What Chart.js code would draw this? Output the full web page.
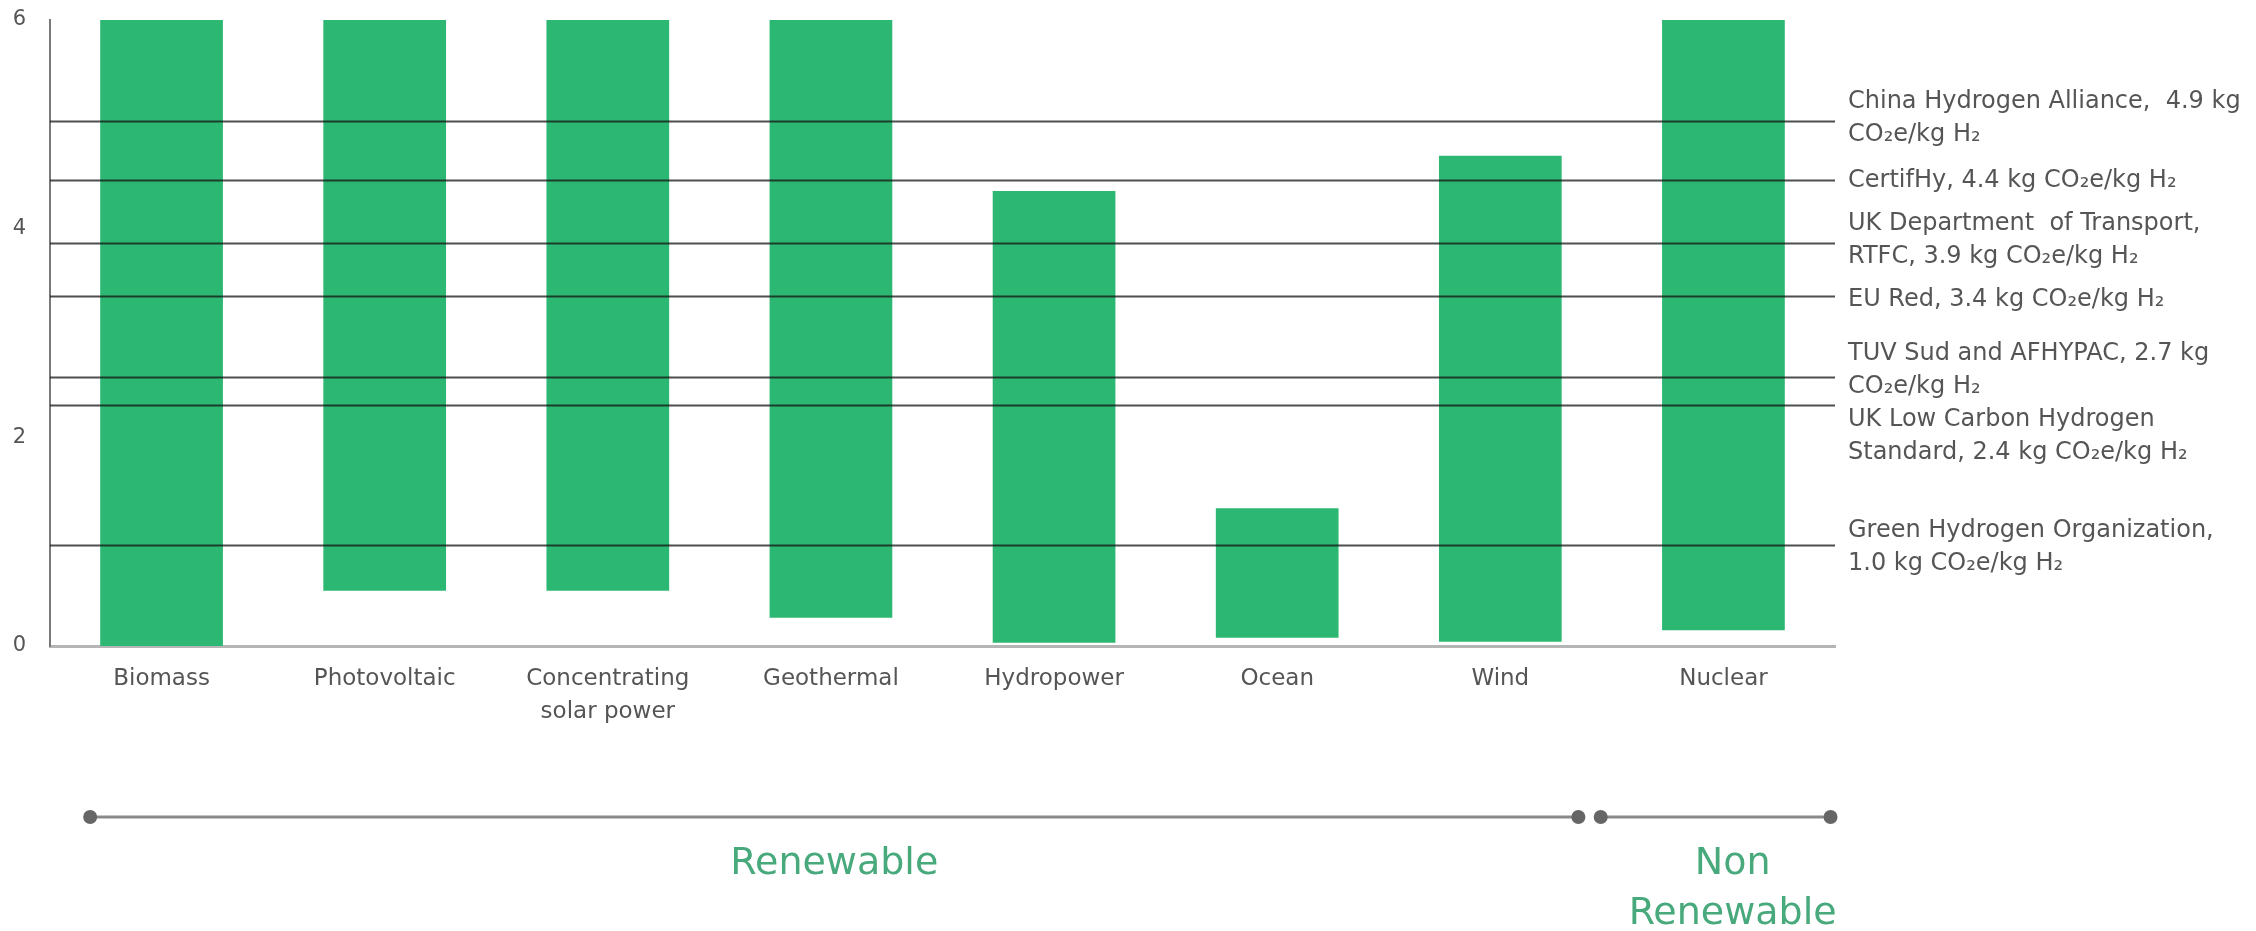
<!DOCTYPE html>
<html>
<head>
<meta charset="utf-8">
<script src="https://cdn.jsdelivr.net/npm/chart.js@4.4.0/dist/chart.umd.min.js"></script>
<style>
  html, body { margin: 0; padding: 0; background: #fff; }
  #wrap { width: 2256px; height: 931px; }
</style>
</head>
<body>
<div id="wrap"><canvas id="chart"></canvas></div>
<script>
const categories = ["Biomass", "Photovoltaic", ["Concentrating", "solar power"], "Geothermal", "Hydropower", "Ocean", "Wind", "Nuclear"];
const lowValues = [0, 0.53, 0.53, 0.27, 0.03, 0.08, 0.04, 0.15];
const highValues = [6, 6, 6, 6, 4.36, 1.32, 4.7, 6];
const yTicks = [0, 2, 4, 6];
const thresholdValues = [5.03, 4.47, 3.86, 3.35, 2.58, 2.31, 0.97];
const thresholdLabels = [
  ["China Hydrogen Alliance,  4.9 kg", "CO₂e/kg H₂"],
  ["CertifHy, 4.4 kg CO₂e/kg H₂"],
  ["UK Department  of Transport,", "RTFC, 3.9 kg CO₂e/kg H₂"],
  ["EU Red, 3.4 kg CO₂e/kg H₂"],
  ["TUV Sud and AFHYPAC, 2.7 kg", "CO₂e/kg H₂"],
  ["UK Low Carbon Hydrogen", "Standard, 2.4 kg CO₂e/kg H₂"],
  ["Green Hydrogen Organization,", "1.0 kg CO₂e/kg H₂"]
];
const groupNames = [["Renewable"], ["Non", "Renewable"]];

const font = "'DejaVu Sans', sans-serif";
const green = "#2cb872";

// where each label block sits relative to its line (px, first-line centre)
const labelShift = [-20, 0, -20, 3, -24, 14, -15];
// group brackets, in category units
const groupSpans = [[-0.32, 6.35], [6.45, 7.48]];

const overlay = {
  id: "overlay",
  afterDatasetsDraw(chart) {
    const { ctx, chartArea, scales } = chart;
    const y = scales.y, x = scales.x;
    ctx.save();
    // threshold lines
    ctx.strokeStyle = "rgba(20,20,20,0.75)";
    ctx.lineWidth = 2;
    thresholdValues.forEach((v, i) => {
      const py = Math.round(y.getPixelForValue(v)) + 0.5;
      ctx.beginPath();
      ctx.moveTo(chartArea.left, py);
      ctx.lineTo(chartArea.right, py);
      ctx.stroke();
      ctx.fillStyle = "#555";
      ctx.font = "24px " + font;
      ctx.textBaseline = "middle";
      ctx.textAlign = "left";
      thresholdLabels[i].forEach((t, k) => {
        ctx.fillText(t, chartArea.right + 13, py + labelShift[i] + k * 33);
      });
    });
    // group brackets below the axis
    const lineY = 817;
    groupSpans.forEach((s, i) => {
      const a = x.getPixelForValue(s[0]);
      const b = x.getPixelForValue(s[1]);
      ctx.strokeStyle = "#8a8a8a";
      ctx.lineWidth = 3;
      ctx.beginPath();
      ctx.moveTo(a, lineY);
      ctx.lineTo(b, lineY);
      ctx.stroke();
      ctx.fillStyle = "#666";
      [a, b].forEach(px => {
        ctx.beginPath();
        ctx.arc(px, lineY, 7, 0, Math.PI * 2);
        ctx.fill();
      });
      ctx.fillStyle = "#47a97c";
      ctx.font = "38px " + font;
      ctx.textAlign = "center";
      ctx.textBaseline = "middle";
      const cx = (a + b) / 2 + (i === 1 ? 17 : 0);
      groupNames[i].forEach((t, k) => {
        ctx.fillText(t, cx, 864 + k * 50);
      });
    });
    ctx.restore();
  }
};

new Chart(document.getElementById("chart"), {
  type: "bar",
  data: {
    labels: categories,
    datasets: [
      {
        label: "Emissions range",
        data: lowValues.map((lo, i) => [lo, highValues[i]]),
        backgroundColor: green,
        borderWidth: 0,
        barPercentage: 0.55,
        categoryPercentage: 1,
      },
    ],
  },
  options: {
    responsive: true,
    maintainAspectRatio: false,
    animation: false,
    layout: { padding: { top: 20, right: 421, bottom: 165, left: 0 } },
    plugins: { legend: { display: false }, tooltip: { enabled: false } },
    scales: {
      x: {
        grid: { display: false },
        border: { display: true, color: "#b5b5b5", width: 3 },
        ticks: { color: "#555", font: { family: font, size: 23, lineHeight: 1.45 }, padding: 8, maxRotation: 0, autoSkip: false },
        afterFit(scale) { scale.height = 120; },
      },
      y: {
        min: 0,
        max: 6,
        grid: { display: false },
        border: { display: true, color: "#7a7a7a", width: 2 },
        afterBuildTicks(scale) { scale.ticks = yTicks.map(v => ({ value: v })); },
        ticks: { color: "#555", font: { family: font, size: 21 }, padding: 16 },
        afterFit(scale) {
          scale.width = 50;
          scale.paddingTop = 0;
          scale.paddingBottom = 0;
        },
      },
    },
  },
  plugins: [overlay],
});
</script>
</body>
</html>
